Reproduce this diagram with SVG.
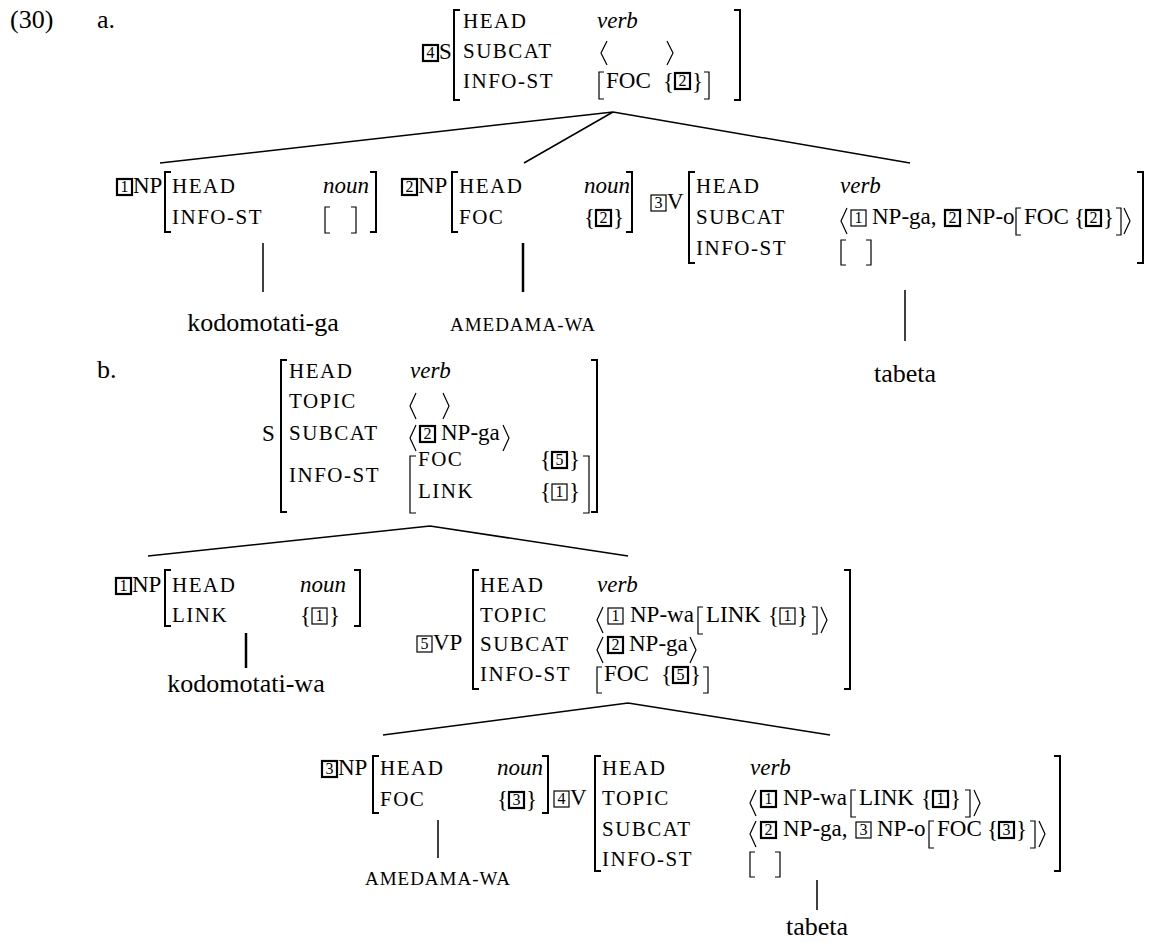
<svg xmlns="http://www.w3.org/2000/svg" width="1157" height="942" viewBox="0 0 1157 942">
<style>
text{font-family:"Liberation Serif","Times New Roman",serif;fill:#000}
.t{font-size:23px}
.l{font-size:21px;letter-spacing:1.5px}
.i{font-size:23px;font-style:italic}
.big{font-size:26px}
.sc{font-size:19px;letter-spacing:1px}
.d{font-size:16px;text-anchor:middle}
.m{text-anchor:middle}
.e{text-anchor:end}
.br{fill:none;stroke:#000;stroke-width:2}
.sb{fill:none;stroke:#000;stroke-width:1.2}
.k1{fill:none;stroke:#000;stroke-width:1.2}
.k2{fill:none;stroke:#000;stroke-width:2.2}
.ln{fill:none;stroke:#000;stroke-width:1.5}
.lt{fill:none;stroke:#000;stroke-width:2.5}
</style>
<rect width="1157" height="942" fill="#fff"/>
<text class="big" x="10" y="28">(30)</text>
<text class="big" x="97" y="28">a.</text>
<text class="big" x="97" y="378">b.</text>

<g id="edges">
<path class="ln" d="M613,112 L160,163 M613,112 L524,163 M613,112 L910,163"/>
<path class="ln" d="M263,243 V292"/>
<path class="lt" d="M523,243 V292"/>
<path class="ln" d="M905,290 V341"/>
<path class="ln" d="M430,526 L148,556 M430,526 L628,556"/>
<path class="lt" d="M246,633 V668"/>
<path class="ln" d="M628,703 L383,735 M628,703 L830,735"/>
<path class="ln" d="M438,820 V858"/>
<path class="ln" d="M817,880 V910"/>
</g>

<g id="a-S">
<rect class="k2" x="423" y="45" width="15" height="16"/><text class="d" x="430.5" y="58">4</text>
<text class="t" x="439" y="59">S</text>
<path class="br" d="M460,10 H454 V100 H460 M734,10 H740 V100 H734"/>
<text class="l" x="463" y="28">HEAD</text><text class="i" x="597" y="28">verb</text>
<text class="l" x="463" y="58">SUBCAT</text>
<path class="sb" d="M607,41 L601,53 L607,65 M667,41 L673,53 L667,65"/>
<text class="l" x="463" y="88">INFO-ST</text>
<path class="sb" d="M604,72 H599 V99 H604 M704,72 H709 V99 H704"/>
<text class="t" x="606" y="88">FOC</text>
<text class="t" x="663" y="89">{</text>
<rect class="k2" x="675" y="73" width="15" height="16"/><text class="d" x="682.5" y="86">2</text>
<text class="t" x="692" y="89">}</text>
</g>

<g id="a-NP1">
<rect class="k2" x="117" y="179" width="15" height="16"/><text class="d" x="124.5" y="192">1</text>
<text class="t" x="133" y="193">NP</text>
<path class="br" d="M171,172 H165 V232 H171 M370,172 H376 V232 H370"/>
<text class="l" x="172" y="193">HEAD</text><text class="i e" x="369" y="193">noun</text>
<text class="l" x="172" y="224">INFO-ST</text>
<path class="sb" d="M330,207 H325 V233 H330 M351,207 H356 V233 H351"/>
</g>

<g id="a-NP2">
<rect class="k2" x="402" y="179" width="15" height="16"/><text class="d" x="409.5" y="192">2</text>
<text class="t" x="418" y="193">NP</text>
<path class="br" d="M458,172 H452 V232 H458 M626,172 H632 V232 H626"/>
<text class="l" x="459" y="193">HEAD</text><text class="i" x="584" y="193">noun</text>
<text class="l" x="459" y="224">FOC</text>
<text class="t" x="584" y="225">{</text>
<rect class="k2" x="596" y="210" width="15" height="16"/><text class="d" x="603.5" y="223">2</text>
<text class="t" x="613" y="225">}</text>
</g>

<g id="a-V3">
<rect class="k1" x="651" y="195" width="15" height="16"/><text class="d" x="658.5" y="208">3</text>
<text class="t" x="667" y="209">V</text>
<path class="br" d="M695,172 H689 V263 H695 M1137,172 H1143 V263 H1137"/>
<text class="l" x="696" y="193">HEAD</text><text class="i" x="840" y="193">verb</text>
<text class="l" x="696" y="224">SUBCAT</text>
<path class="sb" d="M847,208 L841,221 L847,234"/>
<rect class="k1" x="851" y="210" width="15" height="16"/><text class="d" x="858.5" y="223">1</text>
<text class="t" x="872" y="224">NP-ga,</text>
<rect class="k2" x="945" y="210" width="15" height="16"/><text class="d" x="952.5" y="223">2</text>
<text class="t" x="966" y="224">NP-o</text>
<path class="sb" d="M1021,208 H1016 V235 H1021"/>
<text class="t" x="1024" y="224">FOC</text>
<text class="t" x="1074" y="225">{</text>
<rect class="k2" x="1086" y="210" width="15" height="16"/><text class="d" x="1093.5" y="223">2</text>
<text class="t" x="1103" y="225">}</text>
<path class="sb" d="M1116,208 H1121 V235 H1116 M1124,208 L1130,221 L1124,234"/>
<text class="l" x="696" y="255">INFO-ST</text>
<path class="sb" d="M846,240 H841 V265 H846 M866,240 H871 V265 H866"/>
</g>

<g id="a-leaves">
<text class="big m" x="263" y="331">kodomotati-ga</text>
<text class="sc m" x="523" y="331">AMEDAMA-WA</text>
<text class="big m" x="905" y="382">tabeta</text>
</g>

<g id="b-S">
<text class="t" x="262" y="441">S</text>
<path class="br" d="M287,360 H281 V512 H287 M591,360 H597 V512 H591"/>
<text class="l" x="289" y="378">HEAD</text><text class="i" x="410" y="378">verb</text>
<text class="l" x="289" y="408">TOPIC</text>
<path class="sb" d="M416,393 L410,406 L416,419 M443,393 L449,406 L443,419"/>
<text class="l" x="289" y="440">SUBCAT</text>
<path class="sb" d="M416,425 L410,438 L416,451 M503,425 L509,438 L503,451"/>
<rect class="k2" x="420" y="426" width="15" height="16"/><text class="d" x="427.5" y="439">2</text>
<text class="t" x="441" y="440">NP-ga</text>
<text class="l" x="289" y="482">INFO-ST</text>
<path class="sb" d="M416,456 H410 V513 H416 M583,456 H589 V513 H583"/>
<text class="l" x="418" y="466">FOC</text>
<text class="t" x="540" y="467">{</text>
<rect class="k2" x="552" y="452" width="15" height="16"/><text class="d" x="559.5" y="465">5</text>
<text class="t" x="569" y="467">}</text>
<text class="l" x="418" y="498">LINK</text>
<text class="t" x="540" y="499">{</text>
<rect class="k1" x="552" y="484" width="15" height="16"/><text class="d" x="559.5" y="497">1</text>
<text class="t" x="569" y="499">}</text>
</g>

<g id="b-NP1">
<rect class="k2" x="116" y="578" width="15" height="16"/><text class="d" x="123.5" y="591">1</text>
<text class="t" x="132" y="592">NP</text>
<path class="br" d="M171,570 H165 V626 H171 M354,570 H360 V626 H354"/>
<text class="l" x="172" y="592">HEAD</text><text class="i" x="300" y="592">noun</text>
<text class="l" x="172" y="622">LINK</text>
<text class="t" x="300" y="623">{</text>
<rect class="k1" x="312" y="608" width="15" height="16"/><text class="d" x="319.5" y="621">1</text>
<text class="t" x="329" y="623">}</text>
<text class="big m" x="246" y="692">kodomotati-wa</text>
</g>

<g id="b-VP5">
<rect class="k1" x="417" y="636" width="15" height="16"/><text class="d" x="424.5" y="649">5</text>
<text class="t" x="433" y="650">VP</text>
<path class="br" d="M479,570 H473 V689 H479 M844,570 H850 V689 H844"/>
<text class="l" x="480" y="592">HEAD</text><text class="i" x="597" y="592">verb</text>
<text class="l" x="480" y="622">TOPIC</text>
<path class="sb" d="M603,607 L597,620 L603,633"/>
<rect class="k1" x="608" y="608" width="15" height="16"/><text class="d" x="615.5" y="621">1</text>
<text class="t" x="630" y="622">NP-wa</text>
<path class="sb" d="M703,607 H698 V634 H703"/>
<text class="t" x="706" y="622">LINK</text>
<text class="t" x="768" y="623">{</text>
<rect class="k1" x="780" y="608" width="15" height="16"/><text class="d" x="787.5" y="621">1</text>
<text class="t" x="797" y="623">}</text>
<path class="sb" d="M812,607 H817 V634 H812 M821,607 L827,620 L821,633"/>
<text class="l" x="480" y="651">SUBCAT</text>
<path class="sb" d="M603,637 L597,650 L603,663 M690,637 L696,650 L690,663"/>
<rect class="k2" x="608" y="637" width="15" height="16"/><text class="d" x="615.5" y="650">2</text>
<text class="t" x="629" y="651">NP-ga</text>
<text class="l" x="480" y="681">INFO-ST</text>
<path class="sb" d="M602,667 H597 V693 H602 M703,667 H708 V693 H703"/>
<text class="t" x="604" y="681">FOC</text>
<text class="t" x="661" y="682">{</text>
<rect class="k2" x="673" y="667" width="15" height="16"/><text class="d" x="680.5" y="680">5</text>
<text class="t" x="690" y="682">}</text>
</g>

<g id="b-NP3">
<rect class="k2" x="322" y="761" width="15" height="16"/><text class="d" x="329.5" y="774">3</text>
<text class="t" x="338" y="775">NP</text>
<path class="br" d="M379,756 H373 V813 H379 M542,756 H548 V813 H542"/>
<text class="l" x="380" y="775">HEAD</text><text class="i" x="497" y="775">noun</text>
<text class="l" x="380" y="806">FOC</text>
<text class="t" x="497" y="807">{</text>
<rect class="k2" x="509" y="792" width="15" height="16"/><text class="d" x="516.5" y="805">3</text>
<text class="t" x="526" y="807">}</text>
<text class="sc m" x="438" y="885">AMEDAMA-WA</text>
</g>

<g id="b-V4">
<rect class="k1" x="554" y="791" width="15" height="16"/><text class="d" x="561.5" y="804">4</text>
<text class="t" x="570" y="805">V</text>
<path class="br" d="M601,756 H595 V871 H601 M1054,756 H1060 V871 H1054"/>
<text class="l" x="602" y="775">HEAD</text><text class="i" x="750" y="775">verb</text>
<text class="l" x="602" y="805">TOPIC</text>
<path class="sb" d="M756,790 L750,803 L756,816"/>
<rect class="k2" x="761" y="791" width="15" height="16"/><text class="d" x="768.5" y="804">1</text>
<text class="t" x="783" y="805">NP-wa</text>
<path class="sb" d="M856,790 H851 V817 H856"/>
<text class="t" x="859" y="805">LINK</text>
<text class="t" x="921" y="806">{</text>
<rect class="k2" x="933" y="791" width="15" height="16"/><text class="d" x="940.5" y="804">1</text>
<text class="t" x="950" y="806">}</text>
<path class="sb" d="M965,790 H970 V817 H965 M974,790 L980,803 L974,816"/>
<text class="l" x="602" y="836">SUBCAT</text>
<path class="sb" d="M756,821 L750,834 L756,847"/>
<rect class="k2" x="761" y="822" width="15" height="16"/><text class="d" x="768.5" y="835">2</text>
<text class="t" x="783" y="836">NP-ga,</text>
<rect class="k1" x="856" y="822" width="15" height="16"/><text class="d" x="863.5" y="835">3</text>
<text class="t" x="877" y="836">NP-o</text>
<path class="sb" d="M934,821 H929 V848 H934"/>
<text class="t" x="937" y="836">FOC</text>
<text class="t" x="987" y="837">{</text>
<rect class="k2" x="999" y="822" width="15" height="16"/><text class="d" x="1006.5" y="835">3</text>
<text class="t" x="1016" y="837">}</text>
<path class="sb" d="M1030,821 H1035 V848 H1030 M1039,821 L1045,834 L1039,847"/>
<text class="l" x="602" y="866">INFO-ST</text>
<path class="sb" d="M755,852 H750 V877 H755 M775,852 H780 V877 H775"/>
<text class="big m" x="817" y="935">tabeta</text>
</g>
</svg>
